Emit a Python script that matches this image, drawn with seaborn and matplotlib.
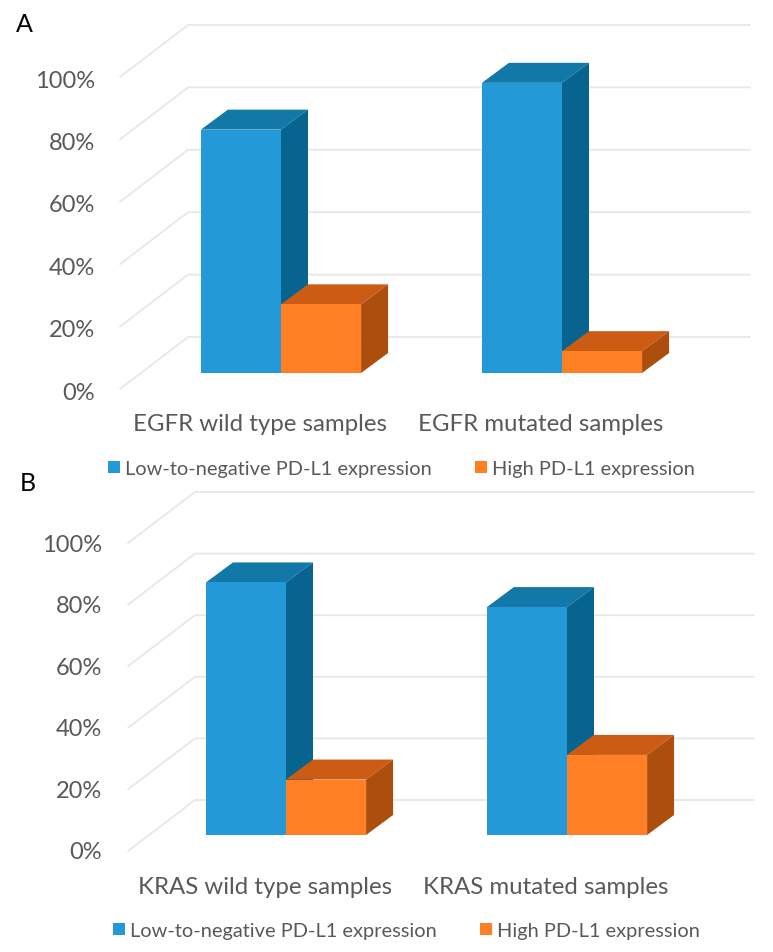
import numpy as np
import pandas as pd
import matplotlib
matplotlib.use("Agg")
import matplotlib.pyplot as plt
from matplotlib.patches import Polygon
from matplotlib.transforms import ScaledTranslation
import seaborn as sns

series_names = ["Low-to-negative PD-L1 expression", "High PD-L1 expression"]
categories_a = ["EGFR wild type samples", "EGFR mutated samples"]
low_a = [78, 93]
high_a = [22, 7]
categories_b = ["KRAS wild type samples", "KRAS mutated samples"]
low_b = [82, 74]
high_b = [18, 26]
ytick_values = [0, 20, 40, 60, 80, 100]
ytick_labels = ["0%", "20%", "40%", "60%", "80%", "100%"]

FRONT = ["#2499D8", "#FF7F24"]
TOP = ["#1278A8", "#CC5C14"]
SIDE = ["#07648F", "#AC4F0E"]
GRID = "#E7E7E7"
TEXT = "#595959"
W, H = 773, 953
DPI = 100

sns.set_theme(style="white")
plt.rcParams["font.family"] = ["Lato", "DejaVu Sans"]

fig = plt.figure(figsize=(W / DPI, H / DPI), dpi=DPI, facecolor="white")


def panel(cats, low, high, x0, unit, base, scale, floor_left, back_left, grid_right,
          floor_front, floor_back, tick_drop, tick_right, xlabel_y, xlabel_shift,
          legend_xy, letter, letter_xy):
    left = x0 - 0.5 * unit
    ax = fig.add_axes([left / W, 1 - (base + 1) / H, 2 * unit / W, 100 * scale / H])
    df = pd.DataFrame({
        "group": cats * 2,
        "value": list(low) + list(high),
        "series": [series_names[0]] * 2 + [series_names[1]] * 2,
    })
    sns.barplot(data=df, x="group", y="value", hue="series", order=cats,
                hue_order=series_names, palette=FRONT, width=0.57, gap=0,
                saturation=1, errorbar=None, ax=ax, zorder=5, linewidth=0)
    ax.set_xlim(-0.5, 1.5)
    ax.set_ylim(0, 100)
    ax.set_xlabel("")
    ax.set_ylabel("")
    sns.despine(ax=ax, left=True, bottom=True)
    ax.patch.set_alpha(0)

    px = lambda p: p / unit
    py = lambda p: p / scale
    xback = px(back_left - x0)
    xfront = px(floor_left - x0)
    xright = px(grid_right - x0)
    for v in ytick_values:
        yb = v + py(base - floor_back)
        yf = v + py(base - floor_front)
        ax.plot([xfront, xback, xright], [yf, yb, yb], color=GRID, lw=1.3,
                clip_on=False, zorder=1, solid_joinstyle="miter")

    ddx, ddy = px(27), py(20)
    for s, container in enumerate(ax.containers):
        for bar in container:
            x, w, h = bar.get_x(), bar.get_width(), bar.get_height()
            ax.add_patch(Polygon([(x, h), (x + w, h), (x + w + ddx, h + ddy), (x + ddx, h + ddy)],
                                 fc=TOP[s], ec="none", zorder=2 + s, clip_on=False))
            ax.add_patch(Polygon([(x + w, 0), (x + w + ddx, ddy), (x + w + ddx, h + ddy), (x + w, h)],
                                 fc=SIDE[s], ec="none", zorder=2 + s, clip_on=False))

    ax.set_yticks(ytick_values, ytick_labels)
    ax.tick_params(axis="y", length=0, pad=(left - tick_right) * 72 / DPI,
                   labelsize=17, labelcolor=TEXT)
    shift = ScaledTranslation(0, -tick_drop / DPI, fig.dpi_scale_trans)
    for lab in ax.get_yticklabels():
        lab.set_transform(lab.get_transform() + shift)
    ax.tick_params(axis="x", length=0, pad=(xlabel_y - base - 10) * 72 / DPI,
                   labelsize=17.3, labelcolor=TEXT)
    xshift = ScaledTranslation(xlabel_shift / DPI, 0, fig.dpi_scale_trans)
    for lab in ax.get_xticklabels():
        lab.set_transform(lab.get_transform() + xshift)

    handles, labels = ax.get_legend_handles_labels()
    ax.legend(handles, labels, loc="center left",
              bbox_to_anchor=(legend_xy[0] / W, 1 - legend_xy[1] / H),
              bbox_transform=fig.transFigure, ncol=2, frameon=False, fontsize=14.4,
              labelcolor=TEXT, handlelength=0.6, handleheight=0.55, handletextpad=0.25,
              columnspacing=2.15, borderpad=0, borderaxespad=0, title=None)
    fig.text(letter_xy[0] / W, 1 - letter_xy[1] / H, letter, color="black",
             fontsize=18, ha="center", va="center")
    return ax


panel(categories_a, low_a, high_a, x0=281, unit=281, base=373, scale=3.12,
      floor_left=120, back_left=188, grid_right=750, floor_front=389, floor_back=337,
      tick_drop=17, tick_right=95, xlabel_y=423, xlabel_shift=-21,
      legend_xy=(108, 470), letter="A", letter_xy=(24, 25))
panel(categories_b, low_b, high_b, x0=286, unit=281, base=835, scale=3.08,
      floor_left=128, back_left=195, grid_right=754, floor_front=851, floor_back=800,
      tick_drop=15, tick_right=102, xlabel_y=886, xlabel_shift=-21,
      legend_xy=(113, 932), letter="B", letter_xy=(28, 484))

fig.savefig("out.png", dpi=DPI, facecolor="white")
